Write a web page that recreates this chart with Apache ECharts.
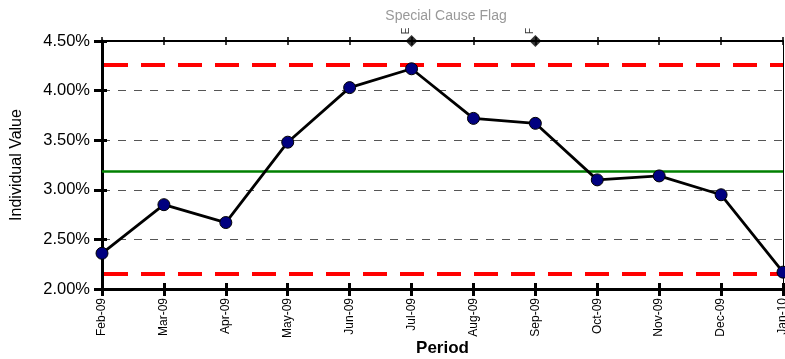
<!DOCTYPE html>
<html>
<head>
<meta charset="utf-8">
<script src="https://cdn.jsdelivr.net/npm/echarts@6/dist/echarts.min.js"></script>
<style>
  html, body { margin: 0; padding: 0; background: #fff; }
  #chart { width: 785px; height: 359px; }
</style>
</head>
<body>
<div id="chart"></div>
<script>
// Monthly individual values (percent) for an individuals control chart
const periods = ['Feb-09', 'Mar-09', 'Apr-09', 'May-09', 'Jun-09', 'Jul-09',
                 'Aug-09', 'Sep-09', 'Oct-09', 'Nov-09', 'Dec-09', 'Jan-10'];
const values = [2.36, 2.85, 2.67, 3.48, 4.03, 4.22, 3.72, 3.67, 3.10, 3.14, 2.95, 2.17];

// Control limits and centre line
const upperLimit = 4.26;
const centerLine = 3.19;
const lowerLimit = 2.15;

// Special cause flags shown along the top edge
const flagPeriods = ['Jul-09', 'Sep-09'];
const flagCodes = ['E', 'F'];

const yMin = 2.0, yMax = 4.5, yStep = 0.5;

const chart = echarts.init(document.getElementById('chart'));
const font = 'Liberation Sans, Arial, sans-serif';

const flagData = flagPeriods.map((p, i) => ({ value: [p, yMax], code: flagCodes[i] }));

chart.setOption({
  animation: false,
  title: {
    text: 'Special Cause Flag',
    left: 441, top: 4, textAlign: 'center',
    textStyle: { color: '#999', fontSize: 14, fontWeight: 'normal', fontFamily: font }
  },
  grid: { left: 102, right: 2, top: 41, bottom: 70, containLabel: false, outerBoundsMode: 'none' },
  xAxis: [
    {
      type: 'category', data: periods, boundaryGap: false, position: 'bottom',
      name: 'Period', nameLocation: 'middle', nameGap: 51, nameMoveOverlap: false,
      nameTextStyle: { fontSize: 17, fontWeight: 'bold', color: '#000', fontFamily: font },
      axisLine: { onZero: false, lineStyle: { color: '#000', width: 3 } },
      axisTick: { alignWithLabel: true, length: 7, lineStyle: { color: '#000', width: 3 } },
      axisLabel: { rotate: 90, fontSize: 12, color: '#000', fontFamily: font, margin: 9 },
      splitLine: { show: false }
    },
    {
      type: 'category', data: periods, boundaryGap: false, position: 'top',
      axisLine: { onZero: false, lineStyle: { color: '#000', width: 2 } },
      axisTick: { length: 4, lineStyle: { color: '#000', width: 1.5 } },
      axisLabel: { show: false },
      splitLine: { show: false }
    },
    {
      type: 'category', data: periods, boundaryGap: false, position: 'bottom',
      axisLine: { show: false },
      axisTick: { inside: true, length: 6, lineStyle: { color: '#000', width: 3 } },
      axisLabel: { show: false }
    },
    {
      type: 'category', data: periods, boundaryGap: false, position: 'top',
      axisLine: { show: false },
      axisTick: { inside: true, length: 4, lineStyle: { color: '#000', width: 1.5 } },
      axisLabel: { show: false }
    }
  ],
  yAxis: [
    {
      type: 'value', min: yMin, max: yMax, interval: yStep, position: 'left',
      name: 'Individual Value', nameLocation: 'middle', nameGap: 77, nameRotate: 90,
      nameMoveOverlap: false,
      nameTextStyle: { fontSize: 16, color: '#000', fontFamily: font },
      axisLine: { show: true, lineStyle: { color: '#000', width: 3 } },
      axisTick: { show: true, length: 8, lineStyle: { color: '#000', width: 3 } },
      axisLabel: { fontSize: 16.5, color: '#000', fontFamily: font, margin: 12,
                   formatter: v => v.toFixed(2) + '%' },
      splitLine: { show: true, lineStyle: { color: '#555', width: 1, type: [8, 8] } }
    },
    {
      type: 'value', min: yMin, max: yMax, interval: yStep, position: 'right',
      axisLine: { show: true, lineStyle: { color: '#000', width: 1 } },
      axisTick: { show: false }, axisLabel: { show: false }, splitLine: { show: false }
    },
    {
      type: 'value', min: yMin, max: yMax, interval: yStep, position: 'left',
      axisLine: { show: false },
      axisTick: { show: true, inside: true, length: 5, lineStyle: { color: '#000', width: 3 } },
      axisLabel: { show: false }, splitLine: { show: false }
    }
  ],
  series: [
    {
      name: 'Limits', type: 'line', data: [], xAxisIndex: 0, yAxisIndex: 0,
      markLine: {
        silent: true, symbol: 'none', label: { show: false },
        data: [
          { yAxis: upperLimit, lineStyle: { color: '#ff0000', width: 4, type: [24, 13], dashOffset: -2 } },
          { yAxis: lowerLimit, lineStyle: { color: '#ff0000', width: 4, type: [24, 13], dashOffset: -2 } },
          { yAxis: centerLine, lineStyle: { color: '#008000', width: 2.5, type: 'solid' } }
        ]
      }
    },
    {
      name: 'Individual Value', type: 'line', data: values, xAxisIndex: 0, yAxisIndex: 0,
      symbol: 'circle', symbolSize: 12, clip: false, z: 5,
      lineStyle: { color: '#000', width: 2.8 },
      itemStyle: { color: '#000080', borderColor: '#000', borderWidth: 1 }
    },
    {
      name: 'Special Cause Flag', type: 'scatter', data: flagData, xAxisIndex: 1, yAxisIndex: 0,
      symbol: 'diamond', symbolSize: 12, clip: false, z: 6,
      itemStyle: { color: '#000' },
      label: {
        show: true, position: 'top', distance: 4, rotate: 90,
        formatter: p => p.data.code, fontSize: 10, color: '#000', fontFamily: font
      }
    }
  ]
});
</script>
</body>
</html>
